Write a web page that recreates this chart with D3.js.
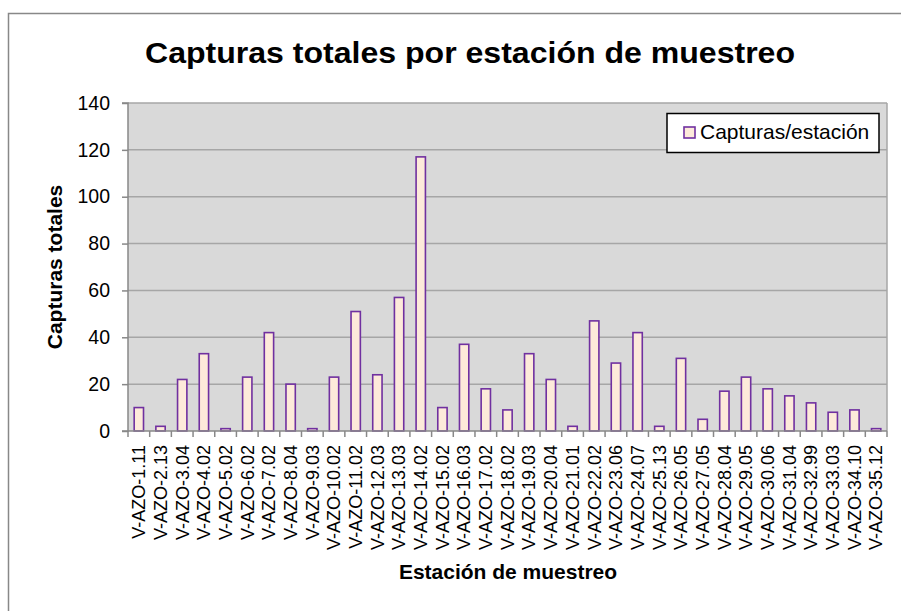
<!DOCTYPE html>
<html><head><meta charset="utf-8">
<script src="https://cdn.jsdelivr.net/npm/d3@7"></script>
<style>body{margin:0;background:#fff}svg{display:block;font-family:"Liberation Sans",Arial,sans-serif}</style>
</head><body><svg id="c" width="901" height="611"></svg>
<script>
const categories = ["V-AZO-1.11","V-AZO-2.13","V-AZO-3.04","V-AZO-4.02","V-AZO-5.02","V-AZO-6.02","V-AZO-7.02","V-AZO-8.04","V-AZO-9.03","V-AZO-10.02","V-AZO-11.02","V-AZO-12.03","V-AZO-13.03","V-AZO-14.02","V-AZO-15.02","V-AZO-16.03","V-AZO-17.02","V-AZO-18.02","V-AZO-19.03","V-AZO-20.04","V-AZO-21.01","V-AZO-22.02","V-AZO-23.06","V-AZO-24.07","V-AZO-25.13","V-AZO-26.05","V-AZO-27.05","V-AZO-28.04","V-AZO-29.05","V-AZO-30.06","V-AZO-31.04","V-AZO-32.99","V-AZO-33.03","V-AZO-34.10","V-AZO-35.12"];
const values = [10,2,22,33,1,23,42,20,1,23,51,24,57,117,10,37,18,9,33,22,2,47,29,42,2,31,5,17,23,18,15,12,8,9,1];
const yTicks = [0,20,40,60,80,100,120,140];
const seriesName = "Capturas/estación";
const title = "Capturas totales por estación de muestreo";
const xTitle = "Estación de muestreo";
const yTitle = "Capturas totales";

const svg = d3.select("#c");
const L = 128, R = 887, T = 103, B = 431;
const FF = "Liberation Sans, Arial, sans-serif";

svg.append("rect").attr("x",8.5).attr("y",13.5).attr("width",930).attr("height",700)
  .attr("fill","#fff").attr("stroke","#888").attr("stroke-width",1.5);

const x = d3.scaleBand().domain(categories).range([L,R]).paddingInner(0.57).paddingOuter(0.285);
const y = d3.scaleLinear().domain([0,140]).range([B,T]);

svg.append("rect").attr("x",L).attr("y",T).attr("width",R-L).attr("height",B-T).attr("fill","#D9D9D9");

// gridlines
svg.append("g").selectAll("line").data(yTicks.filter(d=>d>0)).join("line")
  .attr("x1",L).attr("x2",R).attr("y1",d=>y(d)).attr("y2",d=>y(d))
  .attr("stroke","#A6A6A6").attr("stroke-width",1.5);
svg.append("line").attr("x1",R).attr("x2",R).attr("y1",T).attr("y2",B).attr("stroke","#A6A6A6").attr("stroke-width",1.5);

// bars
svg.append("g").selectAll("rect").data(values).join("rect")
  .attr("x",(d,i)=>x(categories[i])).attr("width",x.bandwidth())
  .attr("y",d=>y(d)).attr("height",d=>y(0)-y(d))
  .attr("fill","#FDEADA").attr("stroke","#7030A0").attr("stroke-width",1.6);

// y axis
const ya = svg.append("g").attr("transform",`translate(${L},0)`)
  .call(d3.axisLeft(y).tickValues(yTicks).tickSize(6).tickPadding(12));
ya.select(".domain").attr("stroke","#888").attr("stroke-width",1.5).attr("d",`M-6,${T}H0V${B}H-6`);
ya.selectAll(".tick line").attr("stroke","#888").attr("stroke-width",1.5);
ya.selectAll(".tick text").attr("font-size",19.5).attr("fill","#000").attr("font-family",FF);

// x axis
const xa = svg.append("g").attr("transform",`translate(0,${B})`)
  .call(d3.axisBottom(x).tickSize(0).tickPadding(0));
xa.select(".domain").attr("stroke","#888").attr("stroke-width",1.5).attr("d",`M${L},0H${R}`);
svg.append("g").selectAll("line").data(d3.range(categories.length+1)).join("line")
  .attr("x1",i=>L+i*(R-L)/categories.length).attr("x2",i=>L+i*(R-L)/categories.length)
  .attr("y1",B).attr("y2",B+6).attr("stroke","#888").attr("stroke-width",1.5);
xa.selectAll(".tick text").attr("font-size",18).attr("fill","#000")
  .attr("font-family",FF)
  .attr("text-anchor","end").attr("dy","0.35em")
  .attr("transform","translate(0,14) rotate(-90)").attr("x",0).attr("y",0);

// titles
svg.append("text").attr("x",470).attr("y",63).attr("text-anchor","middle")
  .attr("font-size",29).attr("font-weight","bold")
  .attr("textLength",650).attr("lengthAdjust","spacingAndGlyphs").text(title);
svg.append("text").attr("x",508).attr("y",579).attr("text-anchor","middle")
  .attr("font-size",21).attr("font-weight","bold").text(xTitle);
svg.append("text").attr("transform",`translate(62,${(T+B)/2}) rotate(-90)`).attr("text-anchor","middle")
  .attr("font-size",21).attr("font-weight","bold").text(yTitle);

// legend
const lg = svg.append("g");
lg.append("rect").attr("x",667).attr("y",113.5).attr("width",212).attr("height",39)
  .attr("fill","#fff").attr("stroke","#000").attr("stroke-width",1.5);
lg.append("rect").attr("x",684).attr("y",127).attr("width",11).attr("height",11)
  .attr("fill","#FDEADA").attr("stroke","#7030A0").attr("stroke-width",1.6);
lg.append("text").attr("x",700).attr("y",139).attr("font-size",21).text(seriesName);
</script></body></html>
